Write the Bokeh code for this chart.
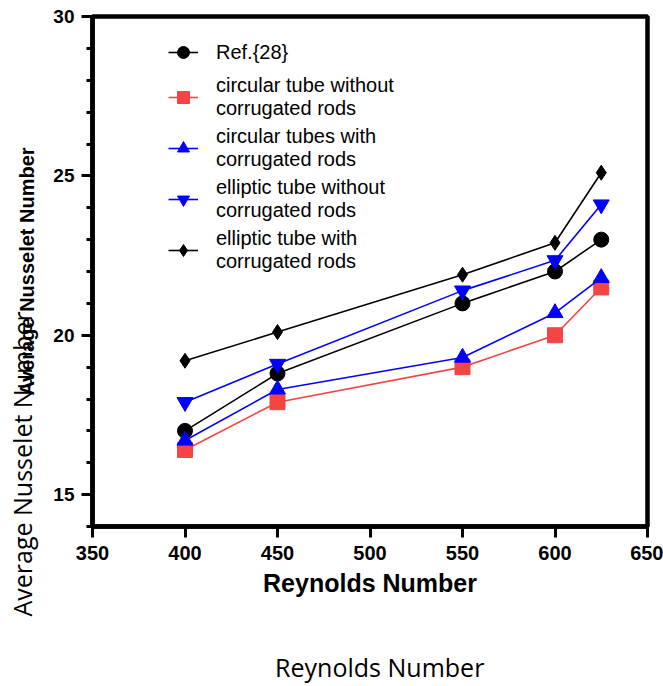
from bokeh.plotting import figure
from bokeh.models import Range1d, FixedTicker, SingleIntervalTicker, Legend, LegendItem, LinearAxis, Title
from bokeh.embed import file_html
from bokeh.resources import INLINE

# ---- data ----
reynolds = [400, 450, 550, 600, 625]
ref28 = [17.0, 18.8, 21.0, 22.0, 23.0]
circ_without = [16.4, 17.9, 19.0, 20.0, 21.5]
circ_with = [16.7, 18.3, 19.3, 20.7, 21.8]
ell_without = [17.9, 19.1, 21.4, 22.35, 24.1]
ell_with = [19.2, 20.1, 21.9, 22.9, 25.1]
x_ticks = [350, 400, 450, 500, 550, 600, 650]
series_labels = ["Ref.{28}",
                 "circular tube without\ncorrugated rods",
                 "circular tubes with\ncorrugated rods",
                 "elliptic tube without\ncorrugated rods",
                 "elliptic tube with\ncorrugated rods"]

p = figure(width=663, height=686, x_range=Range1d(350, 650), y_range=Range1d(14, 30),
           output_backend="svg", toolbar_location=None,
           min_border_left=92, min_border_right=16, min_border_top=16, min_border_bottom=159)
p.background_fill_color = "white"
p.border_fill_color = "white"
p.grid.visible = False
p.outline_line_color = "black"
p.outline_line_width = 4.5

p.xaxis.ticker = FixedTicker(ticks=x_ticks)
p.yaxis.ticker = SingleIntervalTicker(interval=5, num_minor_ticks=5)

for ax in (p.xaxis[0], p.yaxis[0]):
    ax.axis_line_width = 4.5
    ax.axis_line_color = "black"
    ax.major_tick_line_width = 3
    ax.major_tick_out = 11
    ax.major_tick_in = 0
    ax.minor_tick_line_width = 3
    ax.minor_tick_out = 6
    ax.minor_tick_in = 0
    ax.major_label_text_font = "Liberation Sans"
    ax.major_label_text_font_style = "bold"
    ax.major_label_text_color = "black"
    ax.axis_label_text_font = "Liberation Sans"
    ax.axis_label_text_font_style = "bold"
    ax.axis_label_text_color = "black"

p.xaxis.minor_tick_line_color = None
p.xaxis.major_label_text_font_size = "20px"
p.yaxis.major_label_text_font_size = "19px"
p.xaxis.major_label_standoff = 8
p.yaxis.major_label_standoff = 7
p.xaxis.axis_label = "Reynolds Number"
p.yaxis.axis_label = "Average Nusselet Number"
p.xaxis.axis_label_text_font_size = "25px"
p.yaxis.axis_label_text_font_size = "20px"
p.xaxis.axis_label_standoff = 6
p.yaxis.axis_label_standoff = 12

# outer (second) x title, drawn as a label-only axis
outer_x = LinearAxis(ticker=FixedTicker(ticks=[]),
                     axis_label="\u00a0\u00a0\u00a0Reynolds Number", axis_label_standoff=50)
outer_x.axis_line_color = None
outer_x.major_tick_line_color = None
outer_x.minor_tick_line_color = None
outer_x.major_tick_out = 0
outer_x.major_tick_in = 0
outer_x.minor_tick_out = 0
outer_x.major_label_standoff = 0
outer_x.axis_label_text_font = "Open Sans"
outer_x.axis_label_text_font_style = "normal"
outer_x.axis_label_text_font_size = "25px"
outer_x.axis_label_text_color = "black"
p.add_layout(outer_x, "below")

# outer (second) y title
outer_y = Title(text="Average Nusselet Number", align="left", offset=-90,
                standoff=-50, vertical_align="bottom",
                text_font="Open Sans", text_font_style="normal",
                text_font_size="25px", text_color="black")
p.add_layout(outer_y, "left")

red = "#f44444"
blue = "#0000ff"
specs = [
    (ref28, "black", "circle", 15),
    (circ_without, red, "square", 15),
    (circ_with, blue, "triangle", 16),
    (ell_without, blue, "inverted_triangle", 16),
    (ell_with, "black", "diamond", 15),
]
items = []
for (vals, col, mk, sz), lab in zip(specs, series_labels):
    lr = p.line(reynolds, vals, line_color=col, line_width=1.6)
    sr = p.scatter(reynolds, vals, marker=mk, size=sz,
                   fill_color=col, line_color=col)
    items.append(LegendItem(label=lab, renderers=[lr, sr]))

legend = Legend(items=items, location=(76, 253))
legend.border_line_color = None
legend.background_fill_alpha = 0
legend.padding = 7
legend.margin = 0
legend.spacing = 5
legend.glyph_width = 30
legend.glyph_height = 34
legend.label_standoff = 18
legend.label_height = 20
legend.label_text_font = "Liberation Sans"
legend.label_text_font_size = "20px"
legend.label_text_color = "black"
p.add_layout(legend)

open("out.html", "w").write(file_html(p, INLINE))
